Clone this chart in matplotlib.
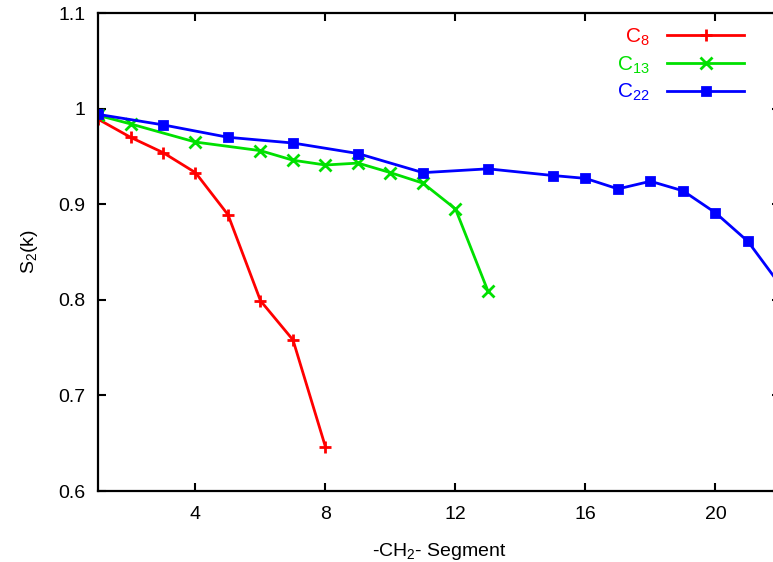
import numpy as np
import matplotlib
matplotlib.use("Agg")
import matplotlib.pyplot as plt

plt.rcParams['font.family'] = ['Liberation Sans', 'DejaVu Sans']
plt.rcParams['mathtext.default'] = 'regular'

# order parameter per methylene segment, three chain lengths
seg_c8 = [1, 2, 3, 4, 5, 6, 7, 8]
s2_c8 = [0.989, 0.970, 0.954, 0.933, 0.889, 0.799, 0.758, 0.646]

seg_c13 = [1, 2, 4, 6, 7, 8, 9, 10, 11, 12, 13]
s2_c13 = [0.993, 0.984, 0.965, 0.956, 0.946, 0.941, 0.943, 0.933, 0.922, 0.895, 0.809]

seg_c22 = [1, 3, 5, 7, 9, 11, 13, 15, 16, 17, 18, 19, 20, 21, 22]
s2_c22 = [0.994, 0.983, 0.970, 0.964, 0.953, 0.933, 0.937, 0.930, 0.927,
          0.916, 0.924, 0.914, 0.891, 0.861, 0.815]

labels = ['C$_8$', 'C$_{13}$', 'C$_{22}$']
colors = ['#ff0000', '#00e000', '#0000ff']
markers = ['+', 'x', 's']

fig = plt.figure(figsize=(7.73, 5.62), dpi=100)
# right edge of the frame sits just past the canvas
ax = fig.add_axes([98 / 773, 71 / 562, 682.5 / 773, 478 / 562])

series = [(seg_c8, s2_c8), (seg_c13, s2_c13), (seg_c22, s2_c22)]
for (xs, ys), lab, c, m in zip(series, labels, colors, markers):
    ms = 6 if m == 's' else 8
    ax.plot(xs, ys, color=c, lw=2.0, marker=m, ms=ms, mew=2.0, label=lab)

ax.set_xlim(1, 22)
ax.set_ylim(0.6, 1.1)
ax.set_xticks([4, 8, 12, 16, 20])
ax.set_yticks([0.6, 0.7, 0.8, 0.9, 1.0, 1.1])
ax.set_yticklabels(['0.6', '0.7', '0.8', '0.9', '1', '1.1'])
ax.tick_params(direction='in', length=6, width=1.5, top=True, right=True,
               labelsize=14, pad=9)
ax.tick_params(axis='x', pad=11)
for sp in ax.spines.values():
    sp.set_linewidth(1.6)

ax.set_xlabel('-CH$_2$- Segment', fontsize=14, labelpad=13)
ax.set_ylabel('S$_2$(k)', fontsize=14, labelpad=13)

leg = ax.legend(loc='upper right', bbox_to_anchor=(763 / 773, 1 - 8 / 562),
                bbox_transform=fig.transFigure, frameon=False, markerfirst=False,
                fontsize=15, handlelength=3.7, labelspacing=0.3, handletextpad=0.85,
                borderpad=0.4)
for t, c in zip(leg.get_texts(), colors):
    t.set_color(c)

fig.savefig('out.png', dpi=100)
